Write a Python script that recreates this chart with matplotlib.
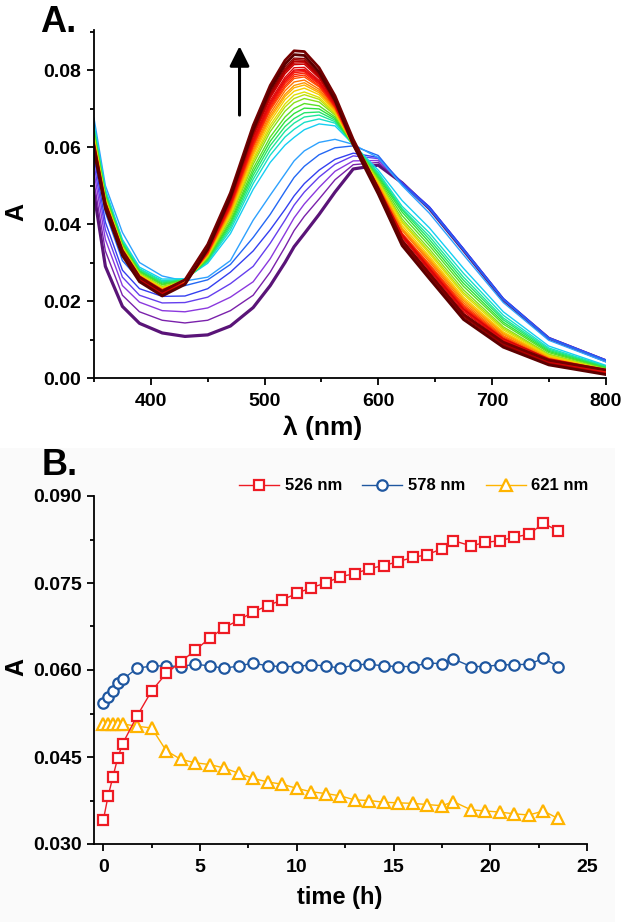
import matplotlib
matplotlib.use("Agg")
import matplotlib.pyplot as plt
from matplotlib.colors import LinearSegmentedColormap
from matplotlib.ticker import MultipleLocator, FormatStrFormatter
from matplotlib.patches import Rectangle

plt.rcParams['font.family'] = ['Liberation Sans', 'DejaVu Sans']
plt.rcParams['font.weight'] = 'bold'

# ---------------- data: panel A (UV-vis spectra) ----------------
wavelength_nm = [350, 360, 375, 390, 410, 430, 450, 470, 490, 505, 518, 526,
                 535, 548, 562, 578, 600, 621, 645, 675, 710, 750, 800]

# one row per recorded spectrum (first = t 0 h ... last = t 23.5 h), absorbance
spectra_A = [
    [0.0480, 0.0290, 0.0186, 0.0142, 0.0117, 0.0108, 0.0112, 0.0135, 0.0183, 0.0240, 0.0300, 0.0341, 0.0375, 0.0425, 0.0483, 0.0543, 0.0553, 0.0507, 0.0440, 0.0332, 0.0203, 0.0103, 0.0045],
    [0.0510, 0.0330, 0.0215, 0.0172, 0.0150, 0.0143, 0.0150, 0.0175, 0.0215, 0.0275, 0.0340, 0.0383, 0.0420, 0.0465, 0.0515, 0.0554, 0.0560, 0.0507, 0.0442, 0.0333, 0.0204, 0.0103, 0.0046],
    [0.0535, 0.0360, 0.0240, 0.0197, 0.0175, 0.0172, 0.0182, 0.0210, 0.0250, 0.0310, 0.0375, 0.0416, 0.0452, 0.0495, 0.0537, 0.0564, 0.0565, 0.0507, 0.0443, 0.0334, 0.0205, 0.0104, 0.0046],
    [0.0555, 0.0385, 0.0262, 0.0215, 0.0195, 0.0196, 0.0210, 0.0245, 0.0290, 0.0350, 0.0410, 0.0449, 0.0483, 0.0522, 0.0555, 0.0577, 0.0570, 0.0507, 0.0444, 0.0335, 0.0206, 0.0104, 0.0047],
    [0.0575, 0.0405, 0.0280, 0.0232, 0.0212, 0.0213, 0.0232, 0.0275, 0.0330, 0.0385, 0.0438, 0.0473, 0.0505, 0.0540, 0.0568, 0.0584, 0.0573, 0.0507, 0.0445, 0.0336, 0.0207, 0.0105, 0.0047],
    [0.0600, 0.0430, 0.0305, 0.0255, 0.0235, 0.0240, 0.0255, 0.0295, 0.0365, 0.0425, 0.0485, 0.0521, 0.0550, 0.0580, 0.0598, 0.0603, 0.0578, 0.0503, 0.0440, 0.0332, 0.0204, 0.0103, 0.0046],
    [0.0675, 0.0500, 0.0378, 0.0300, 0.0265, 0.0252, 0.0262, 0.0305, 0.0410, 0.0475, 0.0530, 0.0564, 0.0590, 0.0612, 0.0620, 0.0607, 0.0572, 0.0500, 0.0428, 0.0320, 0.0196, 0.0098, 0.0042],
    [0.0660, 0.0490, 0.0360, 0.0288, 0.0257, 0.0258, 0.0298, 0.0375, 0.0490, 0.0560, 0.0605, 0.0625, 0.0645, 0.0660, 0.0655, 0.0607, 0.0540, 0.0461, 0.0390, 0.0285, 0.0172, 0.0083, 0.0033],
    [0.0653, 0.0485, 0.0356, 0.0284, 0.0253, 0.0256, 0.0302, 0.0384, 0.0505, 0.0579, 0.0626, 0.0646, 0.0664, 0.0673, 0.0662, 0.0606, 0.0534, 0.0446, 0.0377, 0.0272, 0.0163, 0.0078, 0.0031],
    [0.0648, 0.0482, 0.0353, 0.0282, 0.0250, 0.0255, 0.0304, 0.0391, 0.0516, 0.0592, 0.0641, 0.0662, 0.0678, 0.0683, 0.0666, 0.0610, 0.0530, 0.0440, 0.0368, 0.0262, 0.0156, 0.0075, 0.0029],
    [0.0644, 0.0479, 0.0350, 0.0279, 0.0247, 0.0255, 0.0306, 0.0397, 0.0526, 0.0604, 0.0653, 0.0674, 0.0689, 0.0691, 0.0670, 0.0607, 0.0526, 0.0437, 0.0360, 0.0254, 0.0151, 0.0072, 0.0028],
    [0.0640, 0.0476, 0.0348, 0.0277, 0.0244, 0.0254, 0.0309, 0.0403, 0.0535, 0.0615, 0.0666, 0.0687, 0.0701, 0.0699, 0.0674, 0.0603, 0.0522, 0.0431, 0.0352, 0.0246, 0.0145, 0.0069, 0.0026],
    [0.0636, 0.0472, 0.0345, 0.0275, 0.0242, 0.0253, 0.0311, 0.0408, 0.0544, 0.0626, 0.0678, 0.0700, 0.0713, 0.0707, 0.0678, 0.0607, 0.0518, 0.0422, 0.0344, 0.0238, 0.0140, 0.0066, 0.0025],
    [0.0631, 0.0469, 0.0342, 0.0272, 0.0238, 0.0252, 0.0314, 0.0415, 0.0555, 0.0640, 0.0693, 0.0715, 0.0726, 0.0717, 0.0683, 0.0612, 0.0514, 0.0413, 0.0335, 0.0229, 0.0133, 0.0062, 0.0023],
    [0.0627, 0.0466, 0.0340, 0.0270, 0.0236, 0.0251, 0.0315, 0.0420, 0.0563, 0.0649, 0.0704, 0.0726, 0.0736, 0.0724, 0.0686, 0.0607, 0.0511, 0.0407, 0.0328, 0.0222, 0.0129, 0.0060, 0.0022],
    [0.0624, 0.0464, 0.0339, 0.0269, 0.0235, 0.0250, 0.0317, 0.0424, 0.0569, 0.0657, 0.0712, 0.0735, 0.0743, 0.0729, 0.0689, 0.0606, 0.0508, 0.0403, 0.0323, 0.0217, 0.0125, 0.0058, 0.0021],
    [0.0621, 0.0462, 0.0336, 0.0267, 0.0232, 0.0250, 0.0319, 0.0428, 0.0577, 0.0666, 0.0723, 0.0745, 0.0753, 0.0736, 0.0692, 0.0606, 0.0505, 0.0396, 0.0316, 0.0210, 0.0120, 0.0056, 0.0020],
    [0.0618, 0.0460, 0.0335, 0.0265, 0.0231, 0.0249, 0.0320, 0.0432, 0.0583, 0.0674, 0.0731, 0.0754, 0.0761, 0.0741, 0.0695, 0.0609, 0.0503, 0.0390, 0.0311, 0.0205, 0.0117, 0.0054, 0.0019],
    [0.0616, 0.0458, 0.0334, 0.0264, 0.0229, 0.0248, 0.0321, 0.0435, 0.0588, 0.0680, 0.0737, 0.0760, 0.0767, 0.0745, 0.0697, 0.0607, 0.0501, 0.0387, 0.0307, 0.0201, 0.0114, 0.0052, 0.0018],
    [0.0613, 0.0456, 0.0332, 0.0262, 0.0228, 0.0248, 0.0323, 0.0439, 0.0594, 0.0687, 0.0746, 0.0769, 0.0774, 0.0750, 0.0700, 0.0603, 0.0498, 0.0383, 0.0302, 0.0196, 0.0110, 0.0050, 0.0017],
    [0.0610, 0.0454, 0.0330, 0.0261, 0.0226, 0.0247, 0.0324, 0.0442, 0.0600, 0.0695, 0.0754, 0.0778, 0.0782, 0.0756, 0.0703, 0.0609, 0.0496, 0.0376, 0.0296, 0.0191, 0.0107, 0.0048, 0.0016],
    [0.0608, 0.0453, 0.0329, 0.0260, 0.0225, 0.0247, 0.0325, 0.0445, 0.0604, 0.0700, 0.0759, 0.0783, 0.0787, 0.0759, 0.0704, 0.0610, 0.0494, 0.0375, 0.0293, 0.0187, 0.0104, 0.0047, 0.0015],
    [0.0607, 0.0452, 0.0328, 0.0259, 0.0224, 0.0247, 0.0326, 0.0447, 0.0608, 0.0704, 0.0765, 0.0788, 0.0792, 0.0763, 0.0706, 0.0607, 0.0493, 0.0372, 0.0290, 0.0184, 0.0102, 0.0046, 0.0015],
    [0.0605, 0.0451, 0.0327, 0.0258, 0.0223, 0.0246, 0.0327, 0.0449, 0.0611, 0.0708, 0.0769, 0.0793, 0.0796, 0.0765, 0.0707, 0.0606, 0.0492, 0.0371, 0.0287, 0.0181, 0.0100, 0.0045, 0.0014],
    [0.0604, 0.0450, 0.0326, 0.0258, 0.0222, 0.0246, 0.0328, 0.0451, 0.0614, 0.0712, 0.0773, 0.0797, 0.0799, 0.0768, 0.0709, 0.0606, 0.0490, 0.0370, 0.0284, 0.0179, 0.0098, 0.0044, 0.0014],
    [0.0603, 0.0449, 0.0326, 0.0257, 0.0221, 0.0246, 0.0328, 0.0452, 0.0616, 0.0715, 0.0776, 0.0800, 0.0802, 0.0770, 0.0710, 0.0612, 0.0490, 0.0368, 0.0282, 0.0177, 0.0097, 0.0043, 0.0013],
    [0.0601, 0.0448, 0.0325, 0.0256, 0.0220, 0.0245, 0.0329, 0.0455, 0.0620, 0.0720, 0.0781, 0.0806, 0.0807, 0.0773, 0.0711, 0.0611, 0.0488, 0.0366, 0.0279, 0.0173, 0.0095, 0.0042, 0.0013],
    [0.0609, 0.0456, 0.0334, 0.0265, 0.0229, 0.0255, 0.0340, 0.0468, 0.0635, 0.0735, 0.0798, 0.0822, 0.0823, 0.0788, 0.0723, 0.0619, 0.0496, 0.0373, 0.0285, 0.0179, 0.0102, 0.0050, 0.0022],
    [0.0598, 0.0446, 0.0323, 0.0255, 0.0218, 0.0245, 0.0331, 0.0459, 0.0626, 0.0727, 0.0790, 0.0814, 0.0815, 0.0779, 0.0714, 0.0606, 0.0485, 0.0359, 0.0274, 0.0168, 0.0091, 0.0040, 0.0012],
    [0.0597, 0.0445, 0.0322, 0.0254, 0.0217, 0.0245, 0.0331, 0.0460, 0.0630, 0.0731, 0.0794, 0.0818, 0.0819, 0.0782, 0.0715, 0.0606, 0.0484, 0.0357, 0.0271, 0.0165, 0.0089, 0.0039, 0.0011],
    [0.0596, 0.0444, 0.0321, 0.0253, 0.0216, 0.0244, 0.0332, 0.0462, 0.0633, 0.0735, 0.0798, 0.0823, 0.0823, 0.0784, 0.0717, 0.0609, 0.0483, 0.0355, 0.0269, 0.0163, 0.0087, 0.0038, 0.0011],
    [0.0594, 0.0443, 0.0320, 0.0252, 0.0216, 0.0244, 0.0333, 0.0464, 0.0636, 0.0739, 0.0802, 0.0827, 0.0826, 0.0787, 0.0718, 0.0609, 0.0482, 0.0352, 0.0266, 0.0160, 0.0086, 0.0037, 0.0010],
    [0.0593, 0.0442, 0.0320, 0.0252, 0.0215, 0.0244, 0.0334, 0.0466, 0.0639, 0.0742, 0.0807, 0.0831, 0.0830, 0.0790, 0.0719, 0.0610, 0.0480, 0.0350, 0.0263, 0.0157, 0.0084, 0.0036, 0.0010],
    [0.0603, 0.0452, 0.0330, 0.0262, 0.0225, 0.0255, 0.0347, 0.0481, 0.0656, 0.0760, 0.0825, 0.0850, 0.0848, 0.0806, 0.0733, 0.0620, 0.0491, 0.0357, 0.0271, 0.0165, 0.0093, 0.0046, 0.0021],
    [0.0590, 0.0440, 0.0318, 0.0250, 0.0213, 0.0243, 0.0335, 0.0470, 0.0645, 0.0750, 0.0815, 0.0840, 0.0838, 0.0795, 0.0722, 0.0606, 0.0478, 0.0344, 0.0258, 0.0152, 0.0080, 0.0034, 0.0009],
]

# ---------------- data: panel B (kinetics) ----------------
time_h = [0, 0.25, 0.5, 0.75, 1.0, 1.75, 2.5, 3.25, 4.0, 4.75, 5.5, 6.25, 7.0,
          7.75, 8.5, 9.25, 10.0, 10.75, 11.5, 12.25, 13.0, 13.75, 14.5, 15.25,
          16.0, 16.75, 17.5, 18.1, 19.0, 19.75, 20.5, 21.25, 22.0, 22.75, 23.5]
abs_526 = [0.0341, 0.0383, 0.0416, 0.0449, 0.0473, 0.0521, 0.0564, 0.0594,
           0.0614, 0.0634, 0.0655, 0.0673, 0.0686, 0.0700, 0.0711, 0.0721,
           0.0732, 0.0742, 0.0750, 0.0761, 0.0766, 0.0775, 0.0780, 0.0787,
           0.0794, 0.0799, 0.0809, 0.0823, 0.0814, 0.0820, 0.0823, 0.0829,
           0.0834, 0.0853, 0.0840]
abs_578 = [0.0543, 0.0554, 0.0564, 0.0577, 0.0584, 0.0603, 0.0607, 0.0607,
           0.0606, 0.0610, 0.0607, 0.0603, 0.0607, 0.0612, 0.0607, 0.0606,
           0.0606, 0.0609, 0.0607, 0.0603, 0.0609, 0.0610, 0.0607, 0.0606,
           0.0606, 0.0612, 0.0611, 0.0619, 0.0606, 0.0606, 0.0609, 0.0609,
           0.0610, 0.0620, 0.0606]
abs_621 = [0.0507, 0.0507, 0.0507, 0.0507, 0.0507, 0.0503, 0.0500, 0.0461,
           0.0446, 0.0440, 0.0437, 0.0431, 0.0422, 0.0413, 0.0407, 0.0403,
           0.0396, 0.0390, 0.0387, 0.0383, 0.0376, 0.0375, 0.0372, 0.0371,
           0.0370, 0.0368, 0.0366, 0.0373, 0.0359, 0.0357, 0.0355, 0.0352,
           0.0350, 0.0357, 0.0344]
series_labels = ['526 nm', '578 nm', '621 nm']

xticks_A = [400, 500, 600, 700, 800]
yticks_A = [0.00, 0.02, 0.04, 0.06, 0.08]
xticks_B = [0, 5, 10, 15, 20, 25]
yticks_B = [0.030, 0.045, 0.060, 0.075, 0.090]

# ---------------- figure ----------------
W, H = 622, 922
fig = plt.figure(figsize=(W / 100, H / 100), dpi=100)


def box(l, t, r, b):
    return [l / W, 1 - b / H, (r - l) / W, (b - t) / H]


fig.patches.append(Rectangle((0, 0), 615 / W, 1 - 448 / H, transform=fig.transFigure,
                             facecolor='#fafafa', edgecolor='none', zorder=-5))

axA = fig.add_axes(box(94, 30, 605.6, 378))
axB = fig.add_axes(box(94, 496, 587, 844))
axB.set_facecolor('none')

cmap = LinearSegmentedColormap.from_list('uvvis', [
    (0.00, '#5a1478'), (0.03, '#7d22b0'), (0.06, '#8c3ae0'), (0.09, '#6040f0'),
    (0.12, '#3040f0'), (0.15, '#2070f5'), (0.18, '#30a8ff'), (0.21, '#10d8f0'),
    (0.27, '#20e890'), (0.33, '#30e030'), (0.40, '#a8e010'), (0.45, '#f0e000'),
    (0.50, '#ffb400'), (0.55, '#ff8000'), (0.62, '#ff3000'), (0.70, '#f01010'),
    (0.85, '#c80000'), (0.94, '#900000'), (1.00, '#5c0000')])

n = len(spectra_A)
for i, row in enumerate(spectra_A):
    lw = 1.0
    if i == 0:
        lw = 2.3
    elif i >= n - 2:
        lw = 2.0
    axA.plot(wavelength_nm, row, color=cmap(i / (n - 1)), lw=lw,
             solid_joinstyle='round', zorder=2 + i * 0.01)

axA.annotate('', xy=(478, 0.0862), xytext=(478, 0.0683),
             arrowprops=dict(arrowstyle='-|>,head_length=0.6,head_width=0.3',
                             color='black', lw=2.2, mutation_scale=20,
                             shrinkA=0, shrinkB=0))

axA.set_xlim(350, 800)
axA.set_ylim(0, 0.0904)
axA.set_xticks(xticks_A)
axA.set_yticks(yticks_A)
axA.xaxis.set_minor_locator(MultipleLocator(50))
axA.yaxis.set_minor_locator(MultipleLocator(0.01))
axA.yaxis.set_major_formatter(FormatStrFormatter('%.2f'))

red, blue, yellow = '#ee1b24', '#1f57a0', '#ffb400'
hB = []
hB += axB.plot(time_h, abs_526, '-', color=red, lw=1.0, marker='s', ms=7,
               mfc='white', mec=red, mew=1.6, label=series_labels[0], zorder=3)
hB += axB.plot(time_h, abs_578, '-', color=blue, lw=1.0, marker='o', ms=7.5,
               mfc='white', mec=blue, mew=1.6, label=series_labels[1], zorder=2)
hB += axB.plot(time_h, abs_621, '-', color=yellow, lw=1.0, marker='^', ms=8.5,
               mfc='white', mec=yellow, mew=1.6, label=series_labels[2], zorder=2)

axB.set_xlim(-0.48, 25)
axB.set_ylim(0.030, 0.090)
axB.set_xticks(xticks_B)
axB.set_yticks(yticks_B)
axB.xaxis.set_minor_locator(MultipleLocator(2.5))
axB.yaxis.set_minor_locator(MultipleLocator(0.0075))
axB.yaxis.set_major_formatter(FormatStrFormatter('%.3f'))
axB.xaxis.set_major_formatter(FormatStrFormatter('%d'))

axB.legend(handles=hB, ncol=3, loc='center', bbox_to_anchor=(414 / W, 1 - 486 / H),
           bbox_transform=fig.transFigure, frameon=False, handlelength=2.4,
           handletextpad=0.35, columnspacing=1.2, borderpad=0, numpoints=1,
           prop={'weight': 'bold', 'size': 12})

for ax in (axA, axB):
    for s in ('top', 'right'):
        ax.spines[s].set_visible(False)
    for s in ('left', 'bottom'):
        ax.spines[s].set_linewidth(1.3)
    ax.tick_params(which='major', direction='out', length=5, width=1.3,
                   labelsize=14, pad=4)
    ax.tick_params(which='minor', direction='out', length=3, width=1.3)
    ax.tick_params(axis='x', which='major', pad=6)

# labels
fig.text(40 / W, 1 - 32 / H, 'A.', fontsize=26, fontweight='bold', ha='left', va='baseline')
fig.text(42 / W, 1 - 475 / H, 'B.', fontsize=26, fontweight='bold', ha='left', va='baseline')
fig.text(16 / W, 1 - 212 / H, 'A', fontsize=18, fontweight='bold', rotation=90,
         ha='center', va='center')
fig.text(16 / W, 1 - 667 / H, 'A', fontsize=18, fontweight='bold', rotation=90,
         ha='center', va='center')
fig.text(323 / W, 1 - 428 / H, 'λ (nm)', fontsize=19, fontweight='bold',
         ha='center', va='center')
fig.text(340 / W, 1 - 897 / H, 'time (h)', fontsize=17, fontweight='bold',
         ha='center', va='center')

fig.savefig('out.png', dpi=100)
